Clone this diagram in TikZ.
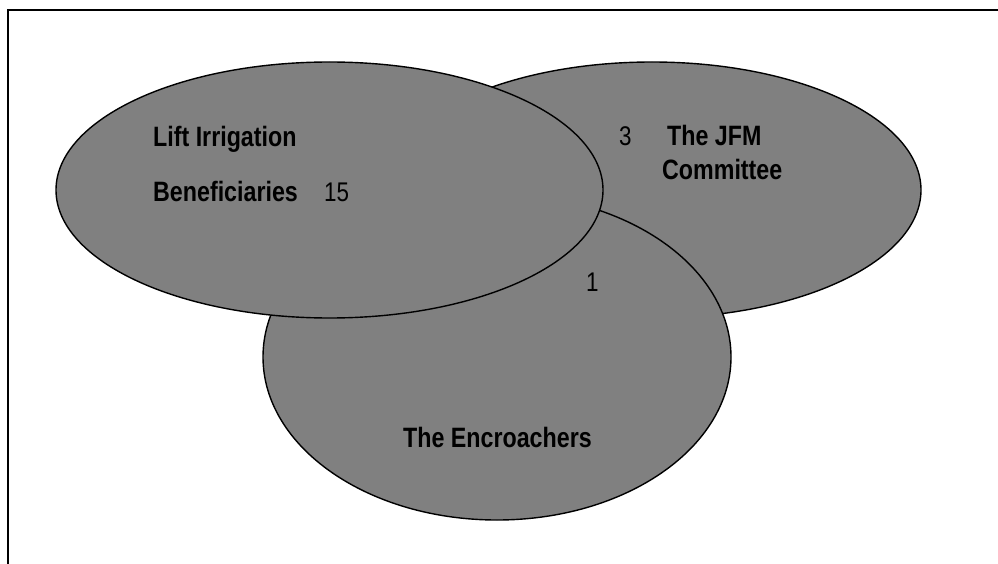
\documentclass[tikz,border=0pt]{standalone}
\usepackage{fontspec}
\setmainfont[FakeStretch=0.83]{Liberation Sans}
\usetikzlibrary{shapes.geometric}
\begin{document}
\begin{tikzpicture}[x=1pt,y=-1pt,
  venn/.style={draw=black, line width=1.4pt, fill=gray, ellipse, inner sep=0pt},
  lbl/.style={anchor=base west, inner sep=0pt, font=\fontsize{28}{30}\selectfont\bfseries},
  num/.style={anchor=base west, inner sep=0pt, font=\fontsize{27}{30}\selectfont},
  frame/.style={draw=black, line width=2pt}]
\useasboundingbox (0,0) rectangle (998,564);
\coordinate (fb) at (8,564);
\coordinate (fc) at (8,10);
\coordinate (fr) at (998,10);
\draw[frame] (fb) -- (fc) -- (fr);
\node[venn, minimum width=538pt, minimum height=256pt] (jfm) at (652,190) {};
\node[venn, minimum width=468pt, minimum height=326pt] (enc) at (497,357) {};
\node[venn, minimum width=547pt, minimum height=256pt] (lift) at (329.5,190) {};
\node[lbl] (t1) at (153,147) {Lift Irrigation};
\node[lbl] (t2) at (153,202) {Beneficiaries};
\node[num] (n15) at (324,202) {15};
\node[num] (n3) at (619,146) {3};
\node[lbl] (t3) at (667,146) {The JFM};
\node[lbl] (t4) at (662,180) {Committee};
\node[num] (n1) at (586,291) {1};
\node[lbl] (t5) at (403,447) {The Encroachers};
\end{tikzpicture}
\end{document}
